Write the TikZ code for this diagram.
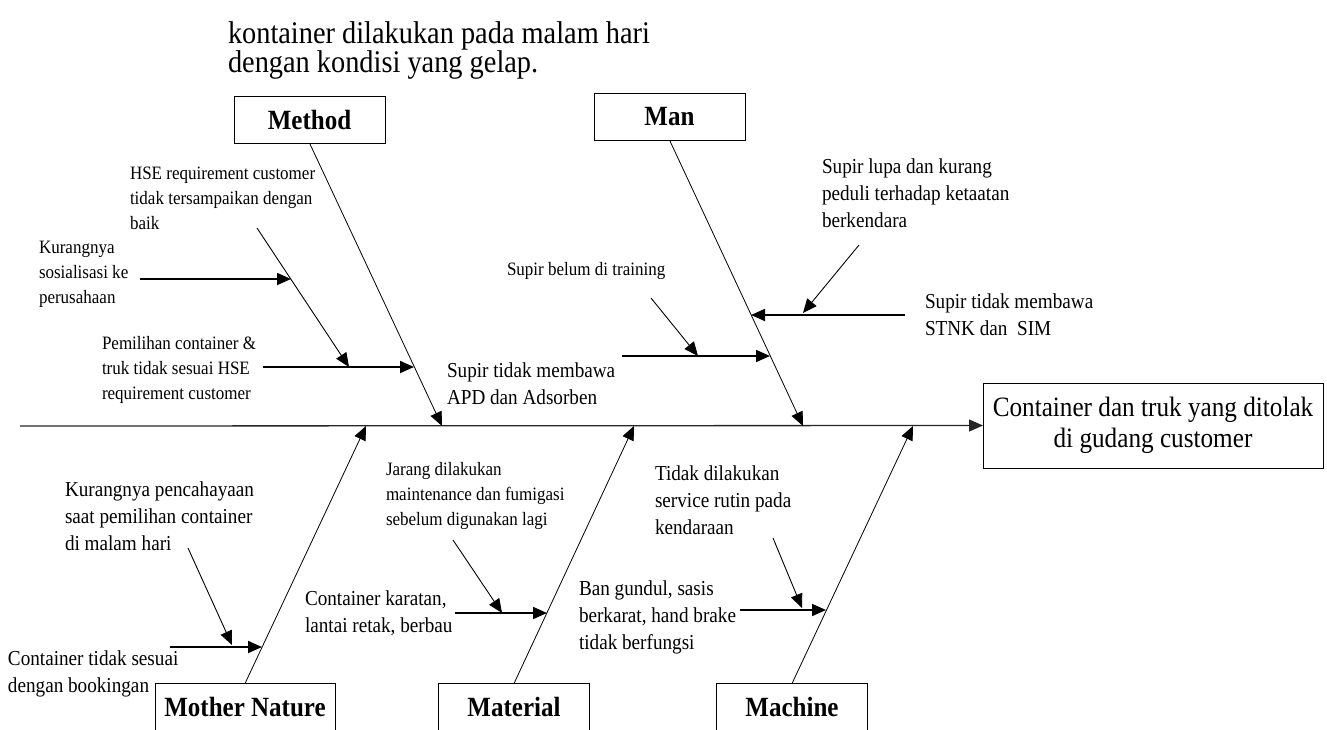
\documentclass[tikz,border=0pt]{standalone}
\usepackage{fontspec}
\setmainfont{Liberation Serif}[FakeStretch=0.9]
\usetikzlibrary{arrows.meta,calc}
\begin{document}
\begin{tikzpicture}[x=1pt,y=-1pt,
  every node/.style={inner sep=0pt, outer sep=0pt},
  catbox/.style={draw, line width=0.9pt, minimum width=151pt, minimum height=47pt, font=\fontsize{27.8}{30}\selectfont\bfseries},
  small/.style={anchor=base west, font=\fontsize{18.9}{25}\selectfont},
  medium/.style={anchor=base west, font=\fontsize{21.3}{27}\selectfont},
  toptext/.style={anchor=base west, font=\fontsize{31.5}{28}\selectfont},
  tip/.style={-{Triangle[length=14pt,width=12pt]}},
  spine/.style={line width=1.3pt, draw=black!85, tip},
  bone/.style={line width=0.8pt, tip},
  sub/.style={line width=1.8pt, tip},
  diag/.style={line width=0.9pt, tip},
]
\clip (0,0) rectangle (1327,729);

% top continuation text
\node[toptext] (top) at (228,43) {\vtop{\hbox{kontainer dilakukan pada malam hari}\hbox{dengan kondisi yang gelap.}}};

% category boxes
\node[catbox] (method) at (309.5,119.5) {Method};
\node[catbox] (man) at (669.5,116.5) {Man};
\node[catbox, minimum width=180pt] (mother) at (245,707) {Mother Nature};
\node[catbox] (material) at (514,707) {Material};
\node[catbox] (machine) at (792,707) {Machine};
\node[draw, line width=0.9pt, minimum width=340pt, minimum height=85pt, align=center, font=\fontsize{28}{31}\selectfont] (effect) at (1153,425.5) {Container dan truk yang ditolak\\di gudang customer};

% spine
\coordinate (tail) at (20,426);
\draw[spine] (tail) -- (effect.west);

% bone tips on spine
\coordinate (mt) at (442,426);
\coordinate (nt) at (803,426);
\coordinate (mnt) at (366,426);
\coordinate (mat) at (634,426);
\coordinate (mct) at (913,426);
\draw[bone] (method.south) -- (mt);
\draw[bone] (man.south) -- (nt);
\draw[bone] (mother.north) -- (mnt);
\draw[bone] (material.north) -- (mat);
\draw[bone] (machine.north) -- (mct);

% ---- Method causes
\node[small] (hse) at (130,179) {\vtop{\hbox{HSE requirement customer}\hbox{tidak tersampaikan dengan}\hbox{baik}}};
\node[small] (kur) at (39,253) {\vtop{\hbox{Kurangnya}\hbox{sosialisasi ke}\hbox{perusahaan}}};
\node[small] (pem) at (102,349) {\vtop{\hbox{Pemilihan container \&}\hbox{truk tidak sesuai HSE}\hbox{requirement customer}}};
\coordinate (hseS) at (257,228);
\coordinate (hseE) at (349,367);
\coordinate (kurS) at (140,279);
\coordinate (kurE) at (291,279);
\coordinate (pemS) at (263,367);
\coordinate (pemE) at (414,367);
\draw[diag] (hseS) -- (hseE);
\draw[sub] (kurS) -- (kurE);
\draw[sub] (pemS) -- (pemE);

% ---- Man causes
\node[small] (trn) at (507,275) {Supir belum di training};
\node[medium] (apd) at (447,377) {\vtop{\hbox{Supir tidak membawa}\hbox{APD dan Adsorben}}};
\node[medium] (lupa) at (822,173) {\vtop{\hbox{Supir lupa dan kurang}\hbox{peduli terhadap ketaatan}\hbox{berkendara}}};
\node[medium] (stnk) at (925,308) {\vtop{\hbox{Supir tidak membawa}\hbox{STNK dan\ \ SIM}}};
\coordinate (trnS) at (651,298);
\coordinate (trnE) at (698,356);
\coordinate (apdS) at (622,356);
\coordinate (apdE) at (770,356);
\coordinate (lupaS) at (859,245);
\coordinate (lupaE) at (803,313);
\coordinate (stnkS) at (905,315);
\coordinate (stnkE) at (751,315);
\draw[diag] (trnS) -- (trnE);
\draw[sub] (apdS) -- (apdE);
\draw[diag] (lupaS) -- (lupaE);
\draw[sub] (stnkS) -- (stnkE);

% ---- Mother Nature causes
\node[medium] (cah) at (65,496) {\vtop{\hbox{Kurangnya pencahayaan}\hbox{saat pemilihan container}\hbox{di malam hari}}};
\node[medium] (book) at (8,665) {\vtop{\hbox{Container tidak sesuai}\hbox{dengan bookingan}}};
\coordinate (cahS) at (188,548);
\coordinate (cahE) at (232,645);
\coordinate (bookS) at (170,647);
\coordinate (bookE) at (262,647);
\draw[diag] (cahS) -- (cahE);
\draw[sub] (bookS) -- (bookE);

% ---- Material causes
\node[small] (jar) at (386,475) {\vtop{\hbox{Jarang dilakukan}\hbox{maintenance dan fumigasi}\hbox{sebelum digunakan lagi}}};
\node[medium] (kar) at (305,605) {\vtop{\hbox{Container karatan,}\hbox{lantai retak, berbau}}};
\coordinate (jarS) at (453,540);
\coordinate (jarE) at (502,613);
\coordinate (karS) at (455,613);
\coordinate (karE) at (547,613);
\draw[diag] (jarS) -- (jarE);
\draw[sub] (karS) -- (karE);

% ---- Machine causes
\node[medium] (srv) at (655,480) {\vtop{\hbox{Tidak dilakukan}\hbox{service rutin pada}\hbox{kendaraan}}};
\node[medium] (ban) at (579,595) {\vtop{\hbox{Ban gundul, sasis}\hbox{berkarat, hand brake}\hbox{tidak berfungsi}}};
\coordinate (srvS) at (773,538);
\coordinate (srvE) at (802,608);
\coordinate (banS) at (740,610);
\coordinate (banE) at (826,610);
\draw[diag] (srvS) -- (srvE);
\draw[sub] (banS) -- (banE);
\end{tikzpicture}
\end{document}
